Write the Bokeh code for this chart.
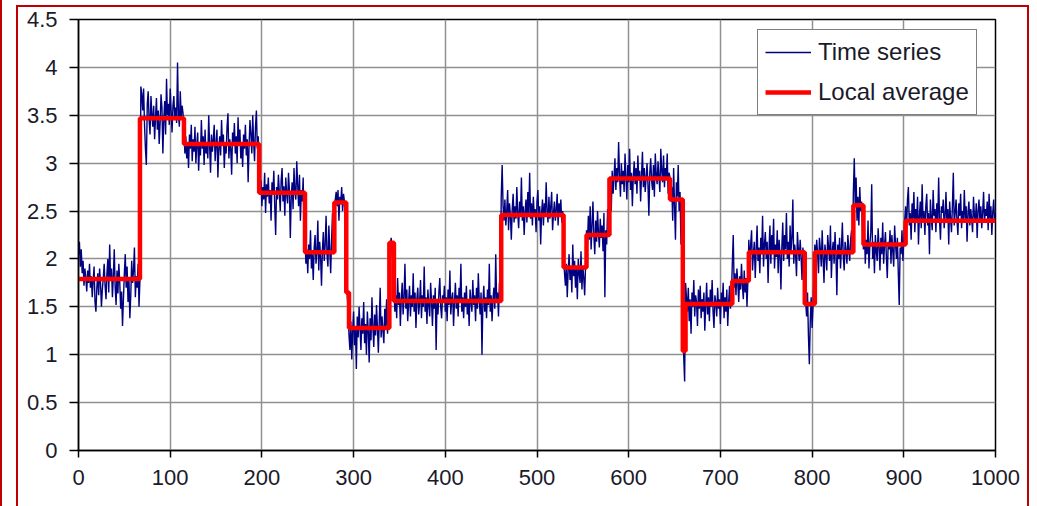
from bokeh.plotting import figure
from bokeh.models import Range1d, FixedTicker, InlineStyleSheet
from bokeh.embed import file_html
from bokeh.resources import INLINE

# ---- time series values, read segment by segment (x = 0 .. 1000) ----
seg_a = [2.05,2.18,1.92,2.10,1.85,1.98,1.72,1.90,1.80,1.66,1.88,1.75,1.95,1.70,1.82,1.60,1.78,1.92,1.55,1.45,
         1.70,1.85,1.62,1.90,1.75,1.50,1.68,1.80,1.95,1.72,1.58,1.85,2.00,1.65,2.15,1.78,1.90,1.60,1.82,2.10,
         1.70,1.52,1.88,1.64,1.95,1.75,1.48,1.66,1.30,1.58,1.85,2.05,1.70,1.92,1.55,1.80,1.38,1.62,1.98,1.75,
         1.88,2.12,1.60,1.82,1.70,1.95,1.50,1.78]
seg_b = [3.80,3.72,3.55,3.78,3.40,3.15,2.98,3.62,3.75,3.45,3.30,3.70,3.52,3.38,3.60,3.25,3.48,3.68,3.35,3.55,
         3.20,3.42,3.72,3.58,3.10,3.45,3.65,3.30,3.88,3.50,3.62,3.40,3.78,3.55,3.32,3.60,3.70,3.45,3.58,3.42,
         4.05,3.50,3.38,3.75,3.48,3.60,3.52]
seg_c = [3.35,3.10,3.28,3.05,3.22,2.95,3.30,3.15,3.40,3.02,3.25,3.12,3.38,3.00,3.20,3.32,2.92,3.18,3.08,3.45,
         3.15,3.28,2.98,3.35,3.10,3.22,3.05,3.50,3.18,2.90,3.30,3.12,3.25,3.40,3.02,3.20,3.35,2.85,3.15,3.28,
         3.08,3.45,3.18,3.30,2.95,3.22,3.10,3.38,3.52,3.05,3.25,3.15,2.88,3.32,3.20,3.42,3.10,3.28,3.00,3.48,
         3.18,3.35,3.05,3.22,2.96,3.30,3.15,3.40,3.08,3.25,2.80,3.18,3.45,3.30,3.10,3.50,3.22,3.02,3.38,3.55,
         3.15,3.28]
seg_d = [2.95,2.70,2.82,2.55,2.75,2.62,2.90,2.48,2.78,2.65,2.85,2.58,2.72,2.40,2.80,2.68,2.92,2.55,2.25,2.75,
         2.62,2.88,2.70,2.50,2.82,2.95,2.60,2.76,2.45,2.85,2.68,2.58,2.90,2.72,2.22,2.65,2.80,2.52,2.95,2.70,
         2.62,3.02,2.78,2.55,2.88,2.40,2.72,2.60,2.85,2.28]
seg_e = [2.20,1.95,2.10,1.85,2.15,2.00,2.30,1.90,2.05,1.78,2.12,2.25,1.95,2.08,2.40,1.88,2.18,2.02,1.72,2.10,
         2.28,1.98,2.15,2.45,2.05,1.92,2.35,2.10,1.85,2.20,2.48,2.05]
seg_f = [2.45,2.62,2.70,2.55,2.72,2.40,2.65,2.58,2.75,2.50,2.68,2.60,2.35]
seg_g = [1.90,1.62,1.48]
seg_h = [1.20,1.05,1.35,0.95,1.25,1.45,1.10,1.30,0.85,1.40,1.18,1.50,1.28,1.05,1.38,1.22,1.55,1.12,1.32,1.00,
         1.45,1.25,0.92,1.38,1.15,1.60,1.30,1.08,1.42,1.20,1.52,1.28,1.02,1.35,1.70,1.18,1.40,1.25,1.12,1.48,
         1.30,1.58,1.22,1.42]
seg_i = [1.85,2.15,2.22,2.05,1.95]
seg_j = [1.70,1.45,1.62,1.38,1.80,1.52,1.65,1.30,1.58,1.75,1.42,1.60,1.95,1.48,1.68,1.35,1.55,1.72,1.40,1.62,
         1.50,1.85,1.45,1.65,1.28,1.58,1.70,1.42,1.55,1.78,1.38,1.62,1.50,1.92,1.45,1.60,1.32,1.68,1.52,1.40,
         1.75,1.55,1.30,1.62,1.48,1.70,1.05,1.58,1.42,1.65,1.80,1.50,1.38,1.62,1.55,1.72,1.45,1.60,1.35,1.68,
         1.52,1.88,1.42,1.58,1.65,1.30,1.55,1.75,1.48,1.62,1.40,1.70,1.55,1.95,1.45,1.60,1.38,1.65,1.50,1.72,
         1.42,1.58,1.30,1.68,1.55,1.45,1.78,1.52,1.62,1.35,1.70,1.48,1.85,1.58,1.42,1.65,1.00,1.55,1.72,1.45,
         1.60,1.38,1.68,1.52,1.95,1.45,1.62,1.35,1.58,1.70,1.48,2.05,1.55,1.65,1.40,1.75,1.60]
seg_k = [2.65,2.98,2.55,2.40,2.62,2.35,2.50,2.72,2.30,2.58,2.45,2.20,2.52,2.68,2.38,2.55,2.42,2.75,2.48,2.32,
         2.60,2.45,2.85,2.40,2.55,2.25,2.50,2.62,2.38,2.70,2.48,2.90,2.42,2.58,2.35,2.65,2.45,2.52,2.28,2.60,
         2.72,2.40,2.55,2.15,2.48,2.62,2.35,2.58,2.45,2.80,2.50,2.38,2.65,2.42,2.55,2.70,2.30,2.48,2.60,2.40,
         2.52,2.68,2.35,2.58,2.45,2.62,2.38,2.50]
seg_l = [2.10,1.85,1.72,1.95,1.60,1.88,2.05,1.78,1.92,1.65,2.15,1.82,1.98,1.70,1.90,1.58,2.00,1.85,1.75,2.08,
         1.68,1.92,1.80,1.62,1.95]
seg_m = [2.30,2.15,2.45,2.20,2.55,2.10,2.35,2.60,2.25,2.05,2.40,2.18,2.50,2.28,2.12,2.42,2.22,2.35,2.08,2.48,
         1.60,2.30,2.15,2.52,2.38]
seg_n = [2.60,2.75,2.50,2.92,2.68,2.85,3.05,2.72,2.95,2.80,3.22,2.88,2.65,3.00,2.78,2.92,2.70,3.10,2.85,2.62,
         2.98,2.80,3.15,2.72,2.90,2.55,2.85,3.02,2.78,2.95,2.68,3.08,2.82,2.92,2.60,2.88,3.12,2.75,2.95,2.70,
         2.85,3.00,2.78,2.45,2.90,3.05,2.82,2.72,2.98,2.65,3.10,2.88,2.78,3.02,2.85,2.70,3.15,2.92,2.80,3.08,
         2.75,2.95,2.85,3.10,2.68,2.90]
seg_o = [2.85,2.60,2.75,2.40,2.95,2.55,2.20,2.80,2.65,2.98,2.50,2.70,2.15,2.45]
seg_p = [1.35,0.98,0.72]
seg_q = [1.75,1.60,1.45,1.70,1.35,1.58,1.22,1.65,1.50,1.78,1.40,1.62,1.55,1.30,1.68,1.48,1.72,1.38,1.58,1.45,
         1.65,1.25,1.52,1.75,1.42,1.60,1.35,1.68,1.50,1.78,1.45,1.28,1.62,1.55,1.40,1.70,1.48,1.58,1.32,1.65,
         1.52,1.75,1.38,1.60,1.45,1.68,1.30,1.55,1.72,1.48,1.62]
seg_r = [1.95,2.25,1.70,1.85,1.62,1.90,1.75,1.55,1.82,1.68,1.95,1.72,1.58,1.88,1.65,1.80,1.50,1.78]
seg_s = [2.20,1.95,2.15,2.30,1.88,2.05,2.18,1.80,2.10,2.35,1.98,2.12,1.85,2.22,2.05,2.45,1.92,2.15,2.28,2.00,
         2.18,1.75,2.10,2.35,1.95,2.25,2.08,2.42,1.90,2.15,2.02,2.30,1.85,2.20,2.05,1.68,2.12,2.38,1.98,2.25,
         2.10,2.48,2.00,2.18,1.92,2.35,2.08,2.22,2.62,1.95,2.15,2.05,1.82,2.28,2.10,1.98,2.20,2.02,1.78,2.12,
         1.95]
seg_t = [1.75,1.55,1.40,1.65,1.20,0.90,1.35,1.60,1.28,1.50,1.85]
seg_u = [2.15,1.95,2.20,2.05,1.85,2.22,2.10,1.92,2.30,2.00,1.75,2.15,2.05,1.88,2.25,2.12,1.98,2.35,1.80,2.08,
         2.18,1.95,2.28,2.05,1.62,2.15,2.00,2.22,1.90,2.12,2.38,2.02,1.88,2.18,2.08,1.95,2.25,2.10,1.98,2.20,
         2.30,2.05]
seg_v = [2.70,3.05,2.55,2.85,2.40,2.65,2.35,2.75,2.50,2.60,2.30]
seg_w = [2.10,2.35,1.95,2.20,2.05,2.40,1.90,2.15,2.28,2.78,2.00,2.18,1.85,2.25,2.08,1.98,2.32,2.12,1.88,2.22,
         2.05,2.38,1.95,2.15,2.28,2.02,1.80,2.18,2.10,2.30,1.95,2.25,2.08,1.92,2.35,2.15,2.00,2.22,1.85,1.52,
         2.12,2.05,2.30,1.98,2.20,2.40]
seg_x = [2.55,2.30,2.62,2.75,2.35,2.48,2.20,2.58,2.42,2.70,2.28,2.52,2.38,2.65,2.15,2.45,2.60,2.32,2.78,2.40,
         2.50,2.25,2.55,2.68,2.35,2.48,2.05,2.62,2.42,2.30,2.72,2.45,2.52,2.28,2.58,2.38,2.85,2.40,2.20,2.55,
         2.48,2.62,2.32,2.45,2.70,2.38,2.52,2.15,2.60,2.42,2.28,2.55,2.90,2.35,2.48,2.62,2.40,2.25,2.58,2.45,
         2.68,2.32,2.50,2.38,2.72,2.42,2.55,2.18,2.48,2.60,2.35,2.52,2.42,2.28,2.65,2.45,2.38,2.58,2.22,2.50,
         2.62,2.40,2.55,2.32,2.48,2.70,2.38,2.52,2.45,2.60,2.30,2.68,2.42,2.55,2.25,2.48,2.62,2.38,2.45]

series_values = (seg_a + seg_b + seg_c + seg_d + seg_e + seg_f + seg_g + seg_h + seg_i + seg_j + seg_k
                 + seg_l + seg_m + seg_n + seg_o + seg_p + seg_q + seg_r + seg_s + seg_t + seg_u + seg_v
                 + seg_w + seg_x)
series_x = list(range(len(series_values)))

# ---- local average (step function) ----
step_edges = [0, 67, 115, 197, 247, 279, 292, 295, 339, 344, 461, 529, 554, 579, 645, 659, 662,
              713, 731, 792, 803, 845, 856, 902, 1000]
step_levels = [1.79, 3.47, 3.20, 2.69, 2.07, 2.59, 1.65, 1.28, 2.17, 1.56, 2.46, 1.91, 2.25, 2.84,
               2.62, 1.04, 1.53, 1.77, 2.07, 1.53, 2.07, 2.56, 2.15, 2.40]

# ---- ticks ----
x_ticks = [0, 100, 200, 300, 400, 500, 600, 700, 800, 900, 1000]
x_tick_labels = ["0", "100", "200", "300", "400", "500", "600", "700", "800", "900", "1000"]
y_ticks = [0, 0.5, 1, 1.5, 2, 2.5, 3, 3.5, 4, 4.5]
y_tick_labels = ["0", "0.5", "1", "1.5", "2", "2.5", "3", "3.5", "4", "4.5"]

series_names = ["Time series", "Local average"]

FONT = "Liberation Sans"
TXT = "#1a1a2a"

p = figure(width=1037, height=506, output_backend="svg", toolbar_location=None,
           x_range=Range1d(0, 1000), y_range=Range1d(0, 4.5),
           min_border_left=78, min_border_right=42, min_border_top=19, min_border_bottom=56)
p.background_fill_color = "white"
p.border_fill_color = "white"
p.outline_line_color = "black"
p.outline_line_width = 1.5

p.line(series_x, series_values, line_color="#000080", line_width=1.4, legend_label=series_names[0])
p.step(step_edges, step_levels + [step_levels[-1]], mode="after", line_color="#ff0000",
       line_width=4.5, legend_label=series_names[1])

for ax, ticks, labels in ((p.xaxis[0], x_ticks, x_tick_labels), (p.yaxis[0], y_ticks, y_tick_labels)):
    ax.ticker = FixedTicker(ticks=ticks)
    ax.major_label_overrides = {t: l for t, l in zip(ticks, labels)}
    ax.major_label_text_font = FONT
    ax.major_label_text_font_size = "22px"
    ax.major_label_text_color = TXT
    ax.axis_line_color = "black"
    ax.axis_line_width = 1.5
    ax.major_tick_line_color = "black"
    ax.major_tick_line_width = 1.5
    ax.major_tick_in = 0
    ax.minor_tick_line_color = None

p.xaxis.major_tick_out = 7
p.xaxis.major_label_standoff = 12
p.yaxis.major_tick_out = 9
p.yaxis.major_label_standoff = 12

p.xgrid.ticker = FixedTicker(ticks=x_ticks)
p.ygrid.ticker = FixedTicker(ticks=y_ticks)
p.grid.grid_line_color = "#909090"
p.grid.grid_line_width = 1.5

lg = p.legend[0]
lg.location = (679, 335)
lg.border_line_color = "black"
lg.border_line_width = 1.5
lg.background_fill_color = "white"
lg.background_fill_alpha = 1
lg.label_text_font = FONT
lg.label_text_font_size = "24px"
lg.label_text_color = TXT
lg.glyph_width = 46
lg.glyph_height = 30
lg.label_height = 30
lg.label_standoff = 7
lg.spacing = 10
lg.padding = 7
lg.margin = 0

# outer dark-red frame drawn with CSS pseudo-elements on the figure host
p.stylesheets = [InlineStyleSheet(css="""
:host { position: relative; }
:host::after { content: ""; position: absolute; left: 16px; top: 5px; width: 1013px; height: 501px;
  border: 2px solid #c00000; border-bottom: none; box-sizing: border-box; pointer-events: none; z-index: 10; }
:host::before { content: ""; position: absolute; left: 0px; top: 0px; width: 2px; height: 506px;
  background: #c00000; pointer-events: none; z-index: 10; }
""")]

open("out.html", "w").write(file_html(p, INLINE))
